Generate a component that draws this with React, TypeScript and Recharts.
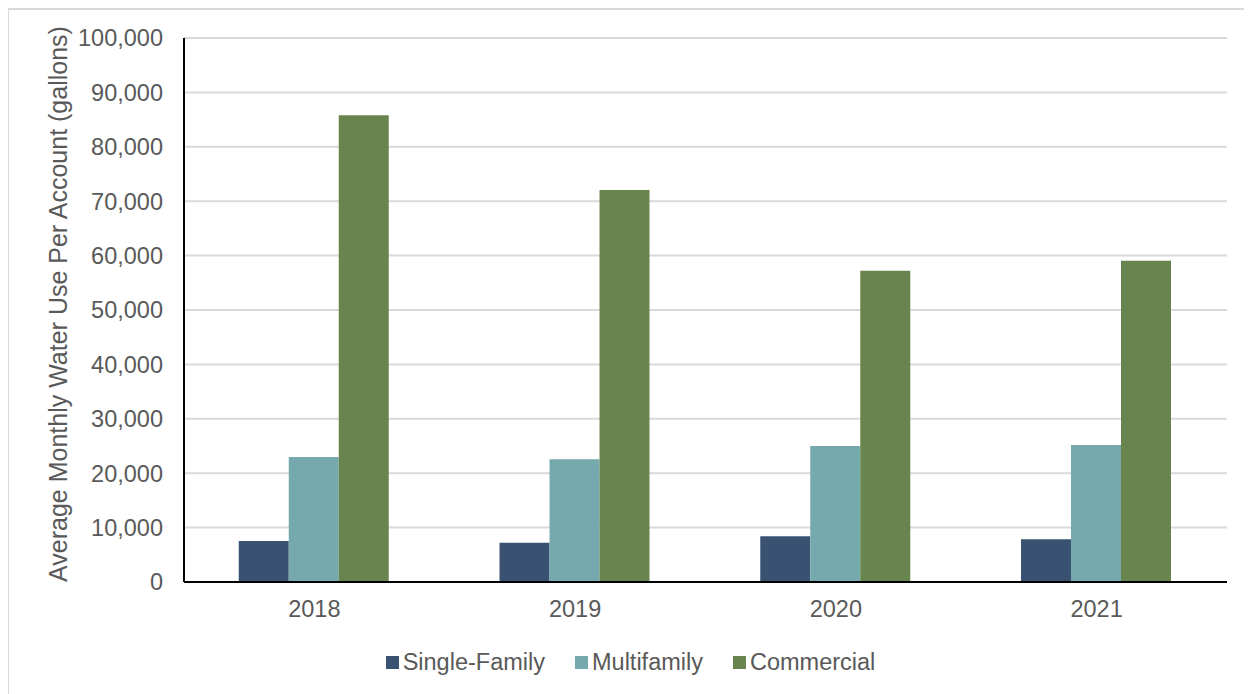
import { Bar, BarChart, CartesianGrid, Legend, XAxis, YAxis } from 'recharts';

const years = ['2018', '2019', '2020', '2021'];
const singleFamily = [7550, 7200, 8400, 7850];
const multifamily = [23000, 22550, 25000, 25200];
const commercial = [85800, 72050, 57200, 59050];
const yTicks = [0, 10000, 20000, 30000, 40000, 50000, 60000, 70000, 80000, 90000, 100000];

const series = [
  { key: 'single', name: 'Single-Family', color: '#3a5272' },
  { key: 'multi', name: 'Multifamily', color: '#76a9ae' },
  { key: 'commercial', name: 'Commercial', color: '#69854f' }
];

const FONT = '"Liberation Sans", Arial, sans-serif';
const TEXT = '#595959';

export default function App() {
  const data = years.map((year, i) => ({
    year,
    single: singleFamily[i],
    multi: multifamily[i],
    commercial: commercial[i]
  }));

  return (
    <div
      style={{
        marginLeft: -1,
        width: 1245,
        height: 686,
        boxSizing: 'border-box',
        borderTop: '2px solid #d9d9d9',
        borderLeft: '2px solid #d9d9d9',
        fontFamily: FONT
      }}>
      <BarChart
        width={1243}
        height={684}
        data={data}
        barGap={0}
        barCategoryGap='21%'
        margin={{ top: 28, right: 25, left: 0, bottom: 12 }}>
        <CartesianGrid vertical={false} stroke='#d9d9d9' strokeWidth={2} />
        <XAxis
          dataKey='year'
          tickLine={false}
          axisLine={{ stroke: '#000', strokeWidth: 2 }}
          tickSize={0}
          tickMargin={18}
          height={60}
          tick={{ fill: TEXT, fontSize: 23.5, fontFamily: FONT }}
        />
        <YAxis
          width={175}
          domain={[0, 100000]}
          ticks={yTicks}
          interval={0}
          tickLine={false}
          tickSize={0}
          tickMargin={21}
          axisLine={{ stroke: '#000', strokeWidth: 2 }}
          tickFormatter={(v: number) => v.toLocaleString('en-US')}
          tick={{ fill: TEXT, fontSize: 23.5, fontFamily: FONT }}
          label={({ viewBox }: any) => (
            <text
              x={49}
              y={viewBox.y + viewBox.height / 2 - 6}
              transform={`rotate(-90, 49, ${viewBox.y + viewBox.height / 2 - 6})`}
              textAnchor='middle'
              dominantBaseline='central'
              fill={TEXT}
              fontSize={25}
              fontFamily={FONT}>
              Average Monthly Water Use Per Account (gallons)
            </text>
          )}
        />
        <Legend
          verticalAlign='bottom'
          height={40}
          wrapperStyle={{ left: 0, width: 1243 }}
          content={() => (
            <div
              style={{
                display: 'flex',
                justifyContent: 'center',
                alignItems: 'center',
                gap: 30,
                fontFamily: FONT,
                fontSize: 23.5,
                color: TEXT,
                height: 40
              }}>
              {series.map((s) => (
                <div key={s.key} style={{ display: 'flex', alignItems: 'center' }}>
                  <span
                    style={{
                      display: 'inline-block',
                      width: 13,
                      height: 13,
                      background: s.color,
                      marginRight: 4
                    }}
                  />
                  <span>{s.name}</span>
                </div>
              ))}
            </div>
          )}
        />
        {series.map((s) => (
          <Bar key={s.key} dataKey={s.key} name={s.name} fill={s.color} isAnimationActive={false} />
        ))}
      </BarChart>
    </div>
  );
}
